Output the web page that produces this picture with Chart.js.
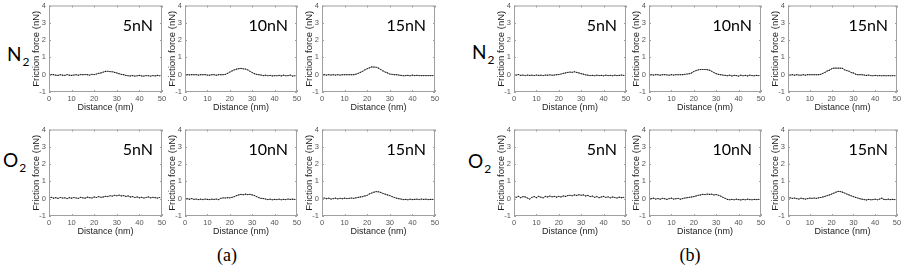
<!DOCTYPE html>
<html>
<head>
<meta charset="utf-8">
<script src="https://cdn.jsdelivr.net/npm/chart.js@4.4.0/dist/chart.umd.min.js"></script>
<style>
html, body { margin: 0; padding: 0; background: #fff; }
#wrap { position: relative; width: 907px; height: 265px; overflow: hidden; }
#wrap canvas { position: absolute; }
.gas { position: absolute; font-family: Lato, "Open Sans", sans-serif; font-size: 19px; line-height: 1; color: #000; }
.gas sub { font-size: 12px; vertical-align: -5px; margin-left: 1px; }
.cap { position: absolute; width: 40px; margin-left: -20px; text-align: center; font-family: "Liberation Serif", serif; font-size: 18px; line-height: 1; }
</style>
</head>
<body>
<div id="wrap">
  <div class="gas" style="left:7px;top:44px">N<sub>2</sub></div>
  <div class="gas" style="left:3px;top:150px">O<sub>2</sub></div>
  <div class="gas" style="left:472px;top:42px">N<sub>2</sub></div>
  <div class="gas" style="left:468px;top:151px">O<sub>2</sub></div>
  <div class="cap" style="left:227px;top:246px">(a)</div>
  <div class="cap" style="left:690px;top:246px">(b)</div>
</div>
<script>
"use strict";

// distance along the scan (nm)
const distance = [0,1,2,3,4,5,6,7,8,9,10,11,12,13,14,15,16,17,18,19,20,21,22,23,24,
  25,26,27,28,29,30,31,32,33,34,35,36,37,38,39,40,41,42,43,44,45,46,47,48,49];

const xTicks = [0, 10, 20, 30, 40, 50];
const yTicks = [-1, 0, 1, 2, 3, 4];
const loads = ['5nN', '10nN', '15nN'];

// (a) N2
const aN2_5 = [0.02,0.01,0,-0.03,-0.04,0,-0.03,-0.04,0.01,-0.03,-0.04,-0.02,0,-0.03,0.01,0,0.01,0,-0.02,0.02,
  0.01,0.04,0.08,0.1,0.15,0.19,0.2,0.18,0.17,0.14,0.1,0.06,0.02,0,-0.04,-0.06,-0.07,-0.05,-0.08,-0.06,
  -0.04,-0.07,-0.08,-0.05,-0.06,-0.08,-0.05,-0.07,-0.04,-0.06];
const aN2_10 = [0,0,-0.01,0,0,0,-0.02,0,0,0,-0.02,-0.03,0,0,-0.03,0,0,0,0.02,0.08,
  0.15,0.22,0.28,0.32,0.35,0.36,0.34,0.33,0.28,0.2,0.12,0.06,0.02,0,-0.02,-0.05,-0.03,-0.06,-0.04,-0.07,
  -0.05,-0.06,-0.04,-0.07,-0.03,-0.06,-0.05,-0.02,-0.08,-0.06];
const aN2_15 = [0,0,-0.02,0,-0.02,0,-0.02,0,-0.02,0,0,0,0,0,0,0.03,0.08,0.14,0.2,0.28,
  0.35,0.4,0.45,0.44,0.43,0.38,0.3,0.22,0.15,0.1,0.04,0.02,0,0,-0.02,-0.04,-0.06,-0.05,-0.04,-0.06,
  -0.03,-0.05,-0.04,-0.05,-0.05,-0.05,-0.05,-0.05,-0.05,-0.05];

// (a) O2
const aO2_5 = [0.05,0.08,0.03,0.06,0.02,0.07,0.04,0.05,0.01,0.06,0.03,0.07,0.04,0.02,0.08,0.05,0.03,0.09,0.06,0.04,
  0.1,0.07,0.12,0.08,0.1,0.14,0.12,0.17,0.15,0.2,0.17,0.21,0.16,0.18,0.13,0.16,0.1,0.12,0.07,0.1,
  0.05,0.08,0.04,0.07,0.1,0.05,0.08,0.06,0.04,0.07];
const aO2_10 = [0.02,0,-0.03,0.01,-0.04,-0.02,-0.05,-0.03,-0.05,-0.02,-0.04,-0.05,-0.03,-0.04,-0.02,-0.05,0.02,0.05,0.04,0.06,
  0.05,0.08,0.12,0.18,0.22,0.25,0.23,0.26,0.24,0.25,0.22,0.18,0.12,0.06,0.02,0.01,-0.02,-0.05,-0.03,-0.06,
  -0.04,-0.05,-0.03,-0.06,-0.04,-0.05,-0.02,-0.04,-0.03,-0.04];
const aO2_15 = [0.02,0.04,0,0.03,-0.02,0.01,0.03,-0.01,0.02,0,0.03,0.01,0.02,0.04,0.02,0.05,0.08,0.1,0.12,0.16,
  0.2,0.28,0.33,0.38,0.41,0.4,0.36,0.3,0.26,0.22,0.18,0.12,0.07,0.03,0,-0.02,-0.05,-0.04,-0.06,-0.03,
  -0.05,-0.04,-0.03,-0.05,-0.02,-0.04,-0.03,-0.05,-0.04,-0.04];

// (b) N2
const bN2_5 = [0,-0.02,0.01,-0.04,-0.02,-0.05,-0.02,-0.04,-0.03,-0.05,-0.02,-0.04,-0.03,-0.05,-0.02,-0.03,-0.01,-0.03,-0.02,0,
  0.01,0.04,0.08,0.1,0.13,0.15,0.14,0.17,0.13,0.1,0.06,0.03,-0.01,-0.03,-0.05,-0.04,-0.06,-0.03,-0.05,-0.04,
  -0.06,-0.03,-0.05,-0.04,-0.06,-0.03,-0.05,-0.04,-0.02,-0.04];
const bN2_10 = [0,0,-0.02,0,0,-0.03,0,0,-0.01,-0.03,0,-0.02,0,0,0,0,0.02,0.04,0.06,0.1,
  0.18,0.24,0.28,0.3,0.3,0.3,0.29,0.26,0.2,0.12,0.06,0.02,0,-0.02,-0.04,-0.06,-0.03,-0.07,-0.04,-0.05,
  -0.08,-0.03,-0.06,-0.04,-0.07,-0.03,-0.05,-0.06,-0.04,-0.05];
const bN2_15 = [0,-0.02,0,-0.03,0,-0.02,-0.03,0,-0.03,0,0,0,0,0,0,0.02,0.08,0.14,0.22,0.26,
  0.34,0.38,0.38,0.38,0.38,0.37,0.28,0.24,0.2,0.12,0.1,0.03,0,0,0,-0.02,-0.04,-0.02,-0.05,-0.06,
  -0.04,-0.06,-0.05,-0.06,-0.05,-0.06,-0.05,-0.06,-0.05,-0.06];

// (b) O2
const bO2_5 = [0.12,0.08,0.14,0.06,0.12,0.1,0.04,-0.02,0.08,0.12,0.06,0.14,0.09,0.05,0.13,0.1,0.15,0.11,0.13,0.09,
  0.14,0.1,0.16,0.13,0.18,0.2,0.17,0.22,0.19,0.23,0.2,0.22,0.16,0.19,0.12,0.15,0.08,0.12,0.06,0.1,
  0.13,0.07,0.11,0.05,0.1,0.07,0.04,0.09,0.06,0.08];
const bO2_10 = [0.02,0,0.03,-0.02,0.01,-0.03,0.02,0,-0.04,0.01,0.03,-0.02,0,0.02,-0.03,0.01,0.04,0.06,0.08,0.1,
  0.12,0.16,0.2,0.22,0.25,0.24,0.27,0.25,0.26,0.22,0.24,0.2,0.15,0.08,0.02,-0.04,-0.06,-0.04,-0.06,-0.03,
  -0.05,-0.07,-0.04,-0.06,-0.03,-0.05,-0.06,-0.04,-0.05,-0.04];
const bO2_15 = [0.03,0.05,0.02,0.04,0.01,-0.02,0.03,0,-0.02,0.01,0.03,0.02,0.04,0.02,0.05,0.07,0.1,0.14,0.18,0.22,
  0.27,0.32,0.38,0.42,0.41,0.38,0.33,0.27,0.22,0.17,0.12,0.08,0.04,0,-0.03,-0.05,-0.07,-0.04,-0.06,-0.05,
  -0.03,-0.06,-0.02,0.03,-0.04,-0.05,-0.03,-0.05,-0.04,-0.05];

// plot boxes in page pixels: [left, right]
const colsA = [[49, 162], [185, 297], [322, 435]];
const colsB = [[514, 626], [649, 761], [788, 897]];
const rowTops = [4, 128];
const plotH = 88;

// margins around the plot box inside each canvas
const padL = 22, padT = 6, padR = 10, padB = 23;

// frame, inward ticks and load label
const framePlugin = {
  id: 'frame',
  afterDraw(chart, args, opts) {
    const ctx = chart.ctx;
    const a = chart.chartArea;
    const x = chart.scales.x, y = chart.scales.y;
    ctx.save();
    ctx.strokeStyle = '#a0a0a0';
    ctx.lineWidth = 1;
    ctx.strokeRect(a.left + 0.5, a.top + 0.5, a.width - 1, a.height - 1);
    ctx.beginPath();
    xTicks.forEach(function(v){
      const px = Math.round(x.getPixelForValue(v)) + 0.5;
      ctx.moveTo(px, a.bottom); ctx.lineTo(px, a.bottom - 2);
      ctx.moveTo(px, a.top); ctx.lineTo(px, a.top + 2);
    });
    yTicks.forEach(function(v){
      const py = Math.round(y.getPixelForValue(v)) + 0.5;
      ctx.moveTo(a.left, py); ctx.lineTo(a.left + 2, py);
      ctx.moveTo(a.right, py); ctx.lineTo(a.right - 2, py);
    });
    ctx.stroke();
    ctx.fillStyle = '#000';
    ctx.font = '16px Lato, "Open Sans", sans-serif';
    ctx.textAlign = 'right';
    ctx.textBaseline = 'alphabetic';
    ctx.fillText(opts.label, a.right - 9, a.top + 25);
    ctx.restore();
  }
};

function makePanel(box, top, values, label) {
  const w = box[1] - box[0];
  const canvas = document.createElement('canvas');
  canvas.width = padL + w + padR;
  canvas.height = padT + plotH + padB;
  canvas.style.left = (box[0] - padL) + 'px';
  canvas.style.top = (top - padT) + 'px';
  document.getElementById('wrap').appendChild(canvas);

  const points = distance.map(function(d, i){ return {x: d, y: values[i]}; });

  new Chart(canvas, {
    type: 'line',
    data: {
      datasets: [{
        data: points,
        borderColor: '#444',
        borderWidth: 0.7,
        pointRadius: 0.6,
        pointBackgroundColor: '#111',
        pointBorderWidth: 0,
        tension: 0
      }]
    },
    options: {
      responsive: false,
      animation: false,
      layout: { padding: { top: padT, right: padR, left: 0, bottom: 0 } },
      plugins: {
        legend: { display: false },
        tooltip: { enabled: false },
        frame: { label: label }
      },
      scales: {
        x: {
          type: 'linear', min: 0, max: 50,
          afterFit: function(s){ s.height = padB; },
          afterBuildTicks: function(s){ s.ticks = xTicks.map(function(v){ return {value: v}; }); },
          grid: { display: false, drawTicks: false },
          border: { display: false },
          ticks: { padding: 2, maxRotation: 0, color: '#555', font: { family: 'Liberation Sans', size: 7.5 } },
          title: { display: true, text: 'Distance (nm)', color: '#222',
                   font: { family: 'Liberation Sans', size: 9 }, padding: { top: 0, bottom: 2 } }
        },
        y: {
          min: -1, max: 4,
          afterFit: function(s){ s.width = padL; },
          afterBuildTicks: function(s){ s.ticks = yTicks.map(function(v){ return {value: v}; }); },
          grid: { display: false, drawTicks: false },
          border: { display: false },
          ticks: { padding: 3, color: '#555', font: { family: 'Liberation Sans', size: 7.5 } },
          title: { display: true, text: 'Friction force (nN)', color: '#222',
                   font: { family: 'Liberation Sans', size: 9.5 }, padding: { top: 4, bottom: 0 } }
        }
      }
    },
    plugins: [framePlugin]
  });
}

// group (a)
makePanel(colsA[0], rowTops[0], aN2_5, loads[0]);
makePanel(colsA[1], rowTops[0], aN2_10, loads[1]);
makePanel(colsA[2], rowTops[0], aN2_15, loads[2]);
makePanel(colsA[0], rowTops[1], aO2_5, loads[0]);
makePanel(colsA[1], rowTops[1], aO2_10, loads[1]);
makePanel(colsA[2], rowTops[1], aO2_15, loads[2]);
// group (b)
makePanel(colsB[0], rowTops[0], bN2_5, loads[0]);
makePanel(colsB[1], rowTops[0], bN2_10, loads[1]);
makePanel(colsB[2], rowTops[0], bN2_15, loads[2]);
makePanel(colsB[0], rowTops[1], bO2_5, loads[0]);
makePanel(colsB[1], rowTops[1], bO2_10, loads[1]);
makePanel(colsB[2], rowTops[1], bO2_15, loads[2]);
</script>
</body>
</html>
